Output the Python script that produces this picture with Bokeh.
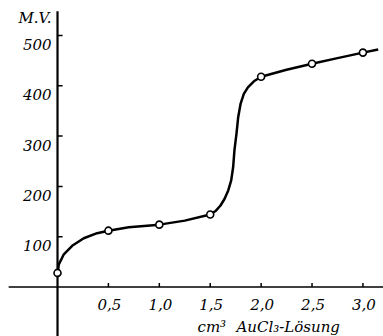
from bokeh.plotting import figure
from bokeh.models import Range1d
from bokeh.core.properties import value
from bokeh.embed import file_html
from bokeh.resources import INLINE

# measured points (cm3 AuCl3 solution, mV)
vol = [0.0, 0.5, 1.0, 1.5, 2.0, 2.5, 3.0]
mv = [28, 112, 124, 144, 418, 444, 466]

# hand-drawn curve
curve_x = [0.0, 0.013, 0.062, 0.144, 0.258, 0.389, 0.5, 0.7, 1.0, 1.25, 1.5, 1.552,
           1.601, 1.640, 1.677, 1.706, 1.725, 1.738, 1.758, 1.775, 1.798, 1.830,
           1.870, 1.929, 2.0, 2.25, 2.5, 2.75, 3.0, 3.15]
curve_y = [26, 45, 65, 82, 97, 107, 112, 119, 124, 132, 144, 151,
           162, 175, 192, 212, 238, 272, 305, 338, 364, 384,
           397, 409, 418, 432, 444, 455, 466, 472]

x_ticks = [0.5, 1.0, 1.5, 2.0, 2.5, 3.0]
x_labels = ["0,5", "1,0", "1,5", "2,0", "2,5", "3,0"]
y_ticks = [100, 200, 300, 400, 500]
y_labels = ["100", "200", "300", "400", "500"]
x_title = ["cm³", "AuCl₃-Lösung"]

FONT = value("DejaVu Serif")

p = figure(width=383, height=336, x_range=Range1d(-0.560, 3.202),
           y_range=Range1d(-98.4, 569.6), output_backend="svg",
           toolbar_location=None, x_axis_type=None, y_axis_type=None,
           min_border=0, outline_line_color=None)
p.xgrid.visible = False
p.ygrid.visible = False

# axes through the origin
p.segment(x0=[-0.48], y0=[0], x1=[3.202], y1=[0], line_color="black", line_width=1.6)
p.segment(x0=[0], y0=[-98.4], x1=[0], y1=[548], line_color="black", line_width=2.2)

# tick marks
p.segment(x0=x_ticks, y0=[0] * len(x_ticks), x1=x_ticks, y1=[8] * len(x_ticks),
          line_color="black", line_width=1.5)
p.segment(x0=[0] * len(y_ticks), y0=y_ticks, x1=[0.05] * len(y_ticks), y1=y_ticks,
          line_color="black", line_width=1.5)

# tick labels
p.text(x=x_ticks, y=[0] * len(x_ticks), text=x_labels, text_font=FONT,
       text_font_style="italic", text_font_size="15px", text_align="center",
       text_baseline="alphabetic", y_offset=17, x_offset=1, text_color="black")
p.text(x=[0] * len(y_ticks), y=y_ticks, text=y_labels, text_font=FONT,
       text_font_style="italic", text_font_size="15px", text_align="right",
       text_baseline="alphabetic", x_offset=-6, y_offset=9, text_color="black")

# axis titles
p.text(x=[0], y=[569.6], text=["M.V."], text_font=FONT, text_font_style="italic",
       text_font_size="15px", text_align="right", text_baseline="alphabetic",
       x_offset=-6, y_offset=17, text_color="black")
p.text(x=[1.375, 1.758], y=[0, 0], text=x_title, text_font=FONT,
       text_font_style="italic", text_font_size="15px", text_align="left",
       text_baseline="alphabetic", y_offset=40, text_color="black")

# curve and measured points
p.line(curve_x, curve_y, line_color="black", line_width=2.5, line_join="round")
p.scatter(vol, mv, size=7, fill_color="white", line_color="black", line_width=1.6)

open("out.html", "w").write(file_html(p, INLINE))
